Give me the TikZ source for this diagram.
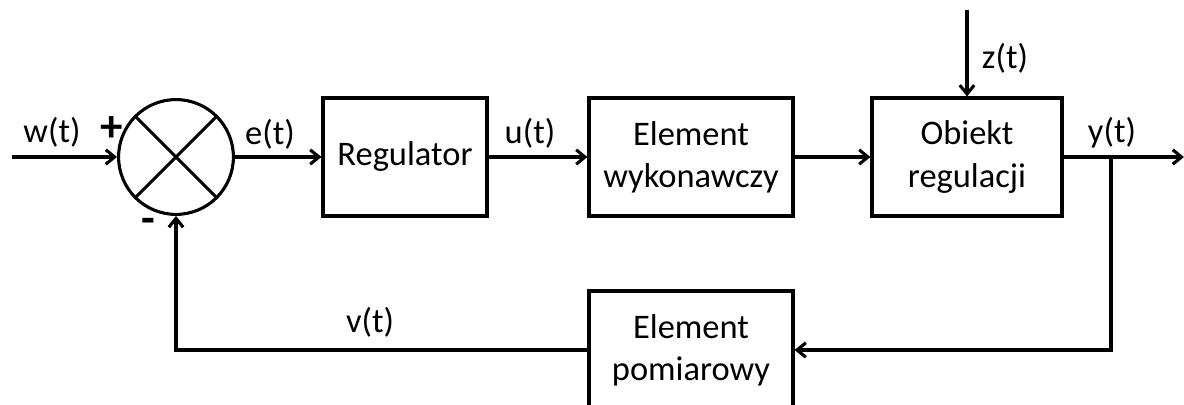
\documentclass[tikz,border=0pt]{standalone}
\usepackage{fontspec}
\setmainfont{Carlito}
\usetikzlibrary{arrows.meta}

\begin{document}
\begin{tikzpicture}[x=0.025cm, y=-0.025cm, line width=2.2pt,
    font=\fontsize{24.5}{30}\selectfont,
    blok/.style={draw, align=center, minimum height=2.95cm, inner sep=0pt},
    znak/.style={font=\fontsize{32}{34}\selectfont\bfseries},
    sygnal/.style={-{Straight Barb[length=2.2mm, width=3.6mm]}}]
    \useasboundingbox (0,0) rectangle (1184,405);
    % wezel sumacyjny
    \node[draw, circle, minimum size=2.87cm, inner sep=0pt] (suma) at (176,157) {};
    \draw (suma.north west) -- (suma.south east);
    \draw (suma.north east) -- (suma.south west);
    % bloki
    \node[blok, minimum width=4.1cm] (reg) at (405,157) {Regulator};
    \node[blok, minimum width=5.1cm] (wyk) at (691,157) {Element\\wykonawczy};
    \node[blok, minimum width=4.75cm] (obj) at (967,157) {Obiekt\\regulacji};
    \node[blok, minimum width=5.1cm] (pom) at (691,350) {Element\\pomiarowy};
    % punkty
    \coordinate (wej) at (12,157);
    \coordinate (wyj) at (1184,157);
    \coordinate (zak) at (967,10);
    \coordinate (rozg) at (1111,157);
    % polaczenia
    \draw[sygnal] (wej) -- (suma.west);
    \draw[sygnal] (suma.east) -- (reg.west);
    \draw[sygnal] (reg.east) -- (wyk.west);
    \draw[sygnal] (wyk.east) -- (obj.west);
    \draw[sygnal] (obj.east) -- (wyj);
    \draw[sygnal] (zak) -- (obj.north);
    \draw[sygnal] (rozg) |- (pom.east);
    \draw[sygnal] (pom.west) -| (suma.south);
    % sygnaly
    \node (lw) at (52,132) {w(t)};
    \node[znak] (lplus) at (112,129) {+};
    \node[znak] (lminus) at (148,226) {-};
    \node (le) at (270,134) {e(t)};
    \node (lu) at (530,133) {u(t)};
    \node (lz) at (1005,58) {z(t)};
    \node (ly) at (1112,133) {y(t)};
    \node (lv) at (370,322) {v(t)};
\end{tikzpicture}
\end{document}
